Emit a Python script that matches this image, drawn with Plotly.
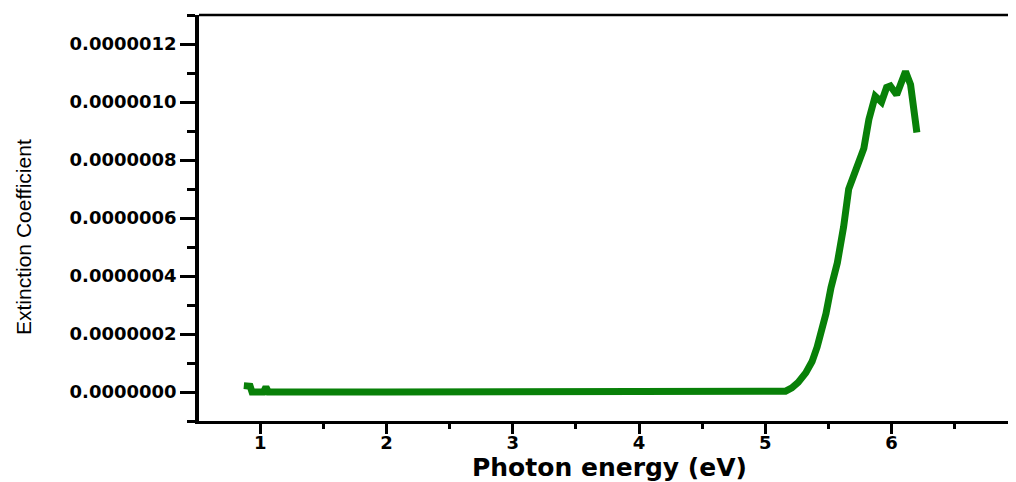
import plotly.graph_objects as go

# Data
photon_energy = [0.87, 0.92, 0.935, 1.025, 1.045, 1.065, 2.0, 3.0, 4.0, 5.0, 5.11, 5.16,
                 5.21, 5.26, 5.32, 5.37, 5.41, 5.45, 5.48, 5.52, 5.57, 5.62, 5.66, 5.72,
                 5.78, 5.82, 5.87, 5.92, 5.96, 5.99, 6.04, 6.11, 6.15, 6.20]
extinction = [2.2e-8, 2.0e-8, 0.0, 0.0, 1.7e-8, 0.0, 0.0, 0.0, 0.0, 0.0, 0.0, 3e-9,
              1.4e-8, 3.3e-8, 6.6e-8, 1.05e-7, 1.55e-7, 2.1e-7, 2.7e-7, 3.6e-7, 4.45e-7, 5.7e-7, 7.0e-7, 7.7e-7,
              8.4e-7, 9.4e-7, 1.02e-6, 1.0e-6, 1.05e-6, 1.055e-6, 1.025e-6, 1.105e-6, 1.06e-6, 8.95e-7]

x_ticks = [1, 2, 3, 4, 5, 6, 7]
y_ticks = [0.0, 2e-7, 4e-7, 6e-7, 8e-7, 1.0e-6, 1.2e-6]
y_tick_labels = ["0.0000000", "0.0000002", "0.0000004", "0.0000006",
                 "0.0000008", "0.0000010", "0.0000012"]

fig = go.Figure()
fig.add_trace(go.Scatter(
    x=photon_energy, y=extinction, mode="lines",
    line=dict(color="rgb(8,128,8)", width=7),
    showlegend=False, hoverinfo="skip",
))

tick_font = dict(family="DejaVu Sans", size=18, color="black", weight="bold")

# page body has an 8px default margin; plot area placed so it lands on the reference pixels
fig.update_layout(
    width=1016, height=482,
    margin=dict(l=191, r=8, t=7, b=69),
    paper_bgcolor="white", plot_bgcolor="white",
    xaxis=dict(
        range=[0.515, 6.985], tickvals=x_ticks, ticktext=[str(v) for v in x_ticks],
        showgrid=False, zeroline=False, showline=True, linecolor="black", linewidth=3,
        ticks="outside", ticklen=10, tickwidth=3, tickcolor="black",
        minor=dict(dtick=0.5, tick0=0.5, ticks="outside", ticklen=5, tickwidth=3, tickcolor="black"),
        tickfont=tick_font, ticklabelstandoff=-7,
    ),
    yaxis=dict(
        range=[-1.0e-7, 1.3e-6], tickvals=y_ticks, ticktext=y_tick_labels,
        showgrid=False, zeroline=False, showline=True, linecolor="black", linewidth=3.5,
        ticks="outside", ticklen=15, tickwidth=3, tickcolor="black",
        minor=dict(dtick=1e-7, tick0=-1e-7, ticks="outside", ticklen=8, tickwidth=3, tickcolor="black"),
        tickfont=tick_font, ticklabelstandoff=0,
    ),
    shapes=[dict(type="line", xref="paper", yref="paper", x0=0, x1=1, y0=1, y1=1,
                 line=dict(color="black", width=2.5))],
    annotations=[
        dict(text="Photon energy (eV)", xref="paper", yref="paper",
             x=(609 - 199) / 817, y=(421 - 467) / 406, xanchor="center", yanchor="middle",
             showarrow=False, font=dict(family="DejaVu Sans", size=25, color="black", weight="bold")),
        dict(text="Extinction Coefficient", xref="paper", yref="paper", textangle=-90,
             x=(23.5 - 199) / 817, y=(421 - 237.5) / 406, xanchor="center", yanchor="middle",
             showarrow=False, font=dict(family="Liberation Sans", size=21, color="black")),
    ],
)

fig.write_html("out.html")
